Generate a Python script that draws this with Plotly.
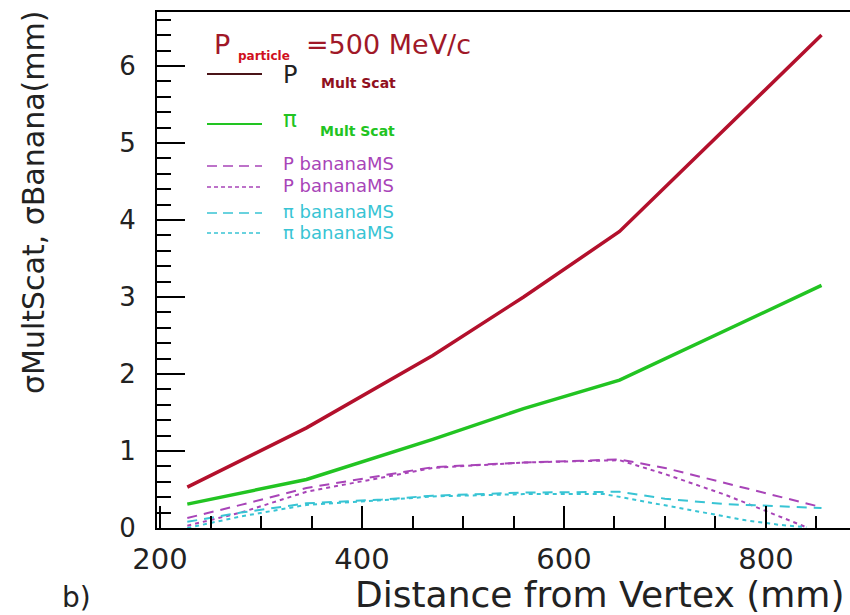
import plotly.graph_objects as go

# ---- data: multiple-scattering width and banana width vs distance ----
dist_mult = [227, 345, 470, 560, 655, 855]
p_mult_scat = [0.53, 1.30, 2.24, 3.00, 3.85, 6.40]
pi_mult_scat = [0.31, 0.63, 1.15, 1.55, 1.92, 3.15]

dist_p_banana_a = [227, 280, 345, 420, 470, 560, 655, 700, 760, 800, 855]
p_banana_a = [0.13, 0.30, 0.52, 0.68, 0.79, 0.85, 0.89, 0.78, 0.58, 0.45, 0.27]

dist_p_banana_b = [227, 280, 345, 420, 470, 560, 655, 700, 760, 800, 840]
p_banana_b = [0.03, 0.20, 0.47, 0.66, 0.78, 0.85, 0.88, 0.70, 0.43, 0.22, 0.01]

dist_pi_banana_a = [227, 280, 345, 420, 470, 560, 655, 700, 760, 855]
pi_banana_a = [0.08, 0.20, 0.32, 0.37, 0.42, 0.46, 0.47, 0.38, 0.31, 0.26]

dist_pi_banana_b = [227, 280, 345, 420, 470, 560, 640, 715, 750, 780, 814, 840]
pi_banana_b = [0.00, 0.15, 0.30, 0.36, 0.41, 0.44, 0.44, 0.26, 0.17, 0.10, 0.04, 0.01]

x_ticks = [200, 400, 600, 800]
y_ticks = [0, 1, 2, 3, 4, 5, 6]

# ---- styling ----
W, H = 850, 615
L, R, T, B = 157, 0, 12, 87
FONT = "DejaVu Sans"
INK = "#222222"
RED = "#b3102c"
GREEN = "#22c422"
PURPLE = "#a844b8"
CYAN = "#38c4d4"


def px(xp):
    return (xp - L) / (W - L - R)


def py(yp):
    return (H - B - yp) / (H - B - T)


fig = go.Figure()
fig.add_trace(go.Scatter(x=dist_mult, y=p_mult_scat, mode="lines",
                         line=dict(color=RED, width=3.5)))
fig.add_trace(go.Scatter(x=dist_mult, y=pi_mult_scat, mode="lines",
                         line=dict(color=GREEN, width=3.5)))
fig.add_trace(go.Scatter(x=dist_p_banana_a, y=p_banana_a, mode="lines",
                         line=dict(color=PURPLE, width=2, dash="10px,7px")))
fig.add_trace(go.Scatter(x=dist_p_banana_b, y=p_banana_b, mode="lines",
                         line=dict(color=PURPLE, width=2, dash="4px,4px")))
fig.add_trace(go.Scatter(x=dist_pi_banana_a, y=pi_banana_a, mode="lines",
                         line=dict(color=CYAN, width=2, dash="10px,7px")))
fig.add_trace(go.Scatter(x=dist_pi_banana_b, y=pi_banana_b, mode="lines",
                         line=dict(color=CYAN, width=2, dash="4px,4px")))

# ---- hand-drawn legend block ----
legend_rows = [
    # (line y px, line colour, dash, width)
    (74, "#4a1418", "solid", 2),
    (124, GREEN, "solid", 2),
    (166, PURPLE, "10px,6px", 1.5),
    (187, PURPLE, "4px,3px", 1.5),
    (213, CYAN, "10px,6px", 1.5),
    (233, CYAN, "4px,3px", 1.5),
]
for yp, col, dash, wd in legend_rows:
    fig.add_shape(type="line", xref="paper", yref="paper",
                  x0=px(207), x1=px(262), y0=py(yp), y1=py(yp),
                  line=dict(color=col, width=wd, dash=dash))

annos = [
    # text, x px, y px, size, colour, bold
    ("P", 212, 44, 27, "#a01828", False),
    ("particle", 236, 56, 12, "#d01020", True),
    ("=500 MeV/c", 304, 44, 27, "#a01828", False),
    ("P", 281, 75, 24, INK, False),
    ("Mult Scat", 319, 83, 14, "#901020", True),
    ("π", 281, 119, 23, GREEN, False),
    ("Mult Scat", 318, 131, 14, GREEN, True),
    ("P bananaMS", 281, 164, 18, PURPLE, False),
    ("P bananaMS", 281, 185, 18, PURPLE, False),
    ("π bananaMS", 281, 211, 18, CYAN, False),
    ("π bananaMS", 281, 232, 18, CYAN, False),
]
for txt, xp, yp, sz, col, bold in annos:
    fig.add_annotation(text=f"<b>{txt}</b>" if bold else txt,
                       xref="paper", yref="paper", x=px(xp), y=py(yp),
                       xanchor="left", yanchor="middle", showarrow=False,
                       font=dict(family=FONT, size=sz, color=col))

# axis titles and panel label
fig.add_annotation(text="Distance from Vertex (mm)", xref="paper", yref="paper",
                   x=px(846), y=py(594), xanchor="right", yanchor="middle",
                   showarrow=False, font=dict(family=FONT, size=36, color=INK))
fig.add_annotation(text="σMultScat, σBanana(mm)", xref="paper", yref="paper",
                   x=px(33), y=py(203), xanchor="center", yanchor="middle",
                   textangle=-90, showarrow=False,
                   font=dict(family=FONT, size=30, color=INK))
fig.add_annotation(text="b)", xref="paper", yref="paper",
                   x=px(76), y=py(597), xanchor="center", yanchor="middle",
                   showarrow=False, font=dict(family=FONT, size=28, color=INK))

fig.update_layout(
    width=W, height=H, autosize=False,
    margin=dict(l=L, r=R, t=T, b=B, pad=0),
    paper_bgcolor="white", plot_bgcolor="white",
    showlegend=False,
    xaxis=dict(range=[197, 883.2], tickvals=x_ticks, ticks="inside",
               ticklen=22, tickwidth=2, tickcolor="black",
               minor=dict(dtick=50, tick0=200, ticks="inside", ticklen=12,
                          tickwidth=2, tickcolor="black", showgrid=False),
               showline=True, linecolor="black", linewidth=2, mirror=True,
               showgrid=False, zeroline=False, ticklabelstandoff=4,
               tickfont=dict(family=FONT, size=29, color=INK)),
    yaxis=dict(range=[0, 6.70], tickvals=y_ticks, ticks="inside",
               ticklen=28, tickwidth=2, tickcolor="black",
               minor=dict(dtick=0.2, tick0=0, ticks="inside", ticklen=14,
                          tickwidth=2, tickcolor="black", showgrid=False),
               showline=True, linecolor="black", linewidth=2, mirror=False,
               showgrid=False, zeroline=False, ticklabelstandoff=14,
               tickfont=dict(family=FONT, size=26, color=INK)),
)

fig.write_html("out.html")
